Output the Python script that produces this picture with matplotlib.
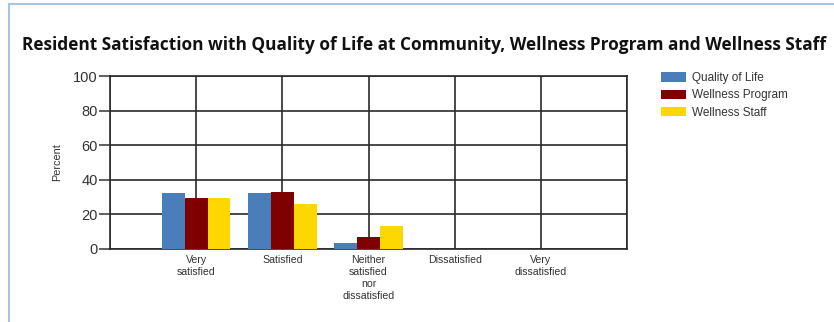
import numpy as np
import matplotlib.pyplot as plt
from matplotlib.lines import Line2D

categories = ['Very\nsatisfied', 'Satisfied', 'Neither\nsatisfied\nnor\ndissatisfied',
              'Dissatisfied', 'Very\ndissatisfied']
quality_of_life = [32.5, 32.5, 3.5, 0, 0]
wellness_program = [29.3, 32.7, 6.8, 0, 0]
wellness_staff = [29.3, 26.0, 13.3, 0, 0]
series_names = ['Quality of Life', 'Wellness Program', 'Wellness Staff']
colors = ['#4a7ebb', '#7f0000', '#ffd700']
yticks = [0, 20, 40, 60, 80, 100]

fig = plt.figure(figsize=(8.34, 3.22), dpi=100)
ax = fig.add_axes([110 / 834, 1 - 249 / 322, 517 / 834, 173 / 322])

x = np.arange(1, len(categories) + 1)
w = 0.265
for i, (vals, name, c) in enumerate(zip([quality_of_life, wellness_program, wellness_staff],
                                        series_names, colors)):
    ax.bar(x + (i - 1) * w, vals, width=w, color=c, label=name, zorder=3)

ax.set_xlim(0, len(categories) + 1)
ax.set_ylim(0, 100)
ax.set_yticks(yticks)
ax.set_xticks(np.arange(0, len(categories) + 2))
ax.set_xticklabels([''] + categories + [''], fontsize=7.6, color='#333333',
                   family='Liberation Sans', va='top', linespacing=1.25)
ax.tick_params(axis='x', length=0, pad=4)
ax.tick_params(axis='y', length=8, width=1.2, color='#444444', labelsize=10.5,
               labelcolor='#333333', pad=1)
for lab in ax.get_yticklabels():
    lab.set_family('Liberation Sans')
ax.grid(True, color='#2a2a2a', linewidth=1.2, zorder=0)
for s in ax.spines.values():
    s.set_color('#2a2a2a')
    s.set_linewidth(1.2)
ax.set_ylabel('Percent', fontsize=7.8, color='#333333', family='Liberation Sans', labelpad=8)

fig.text(22 / 834, 1 - 45 / 322, 'Resident Satisfaction with Quality of Life at Community, '
         'Wellness Program and Wellness Staff', fontsize=12.4, fontweight='bold',
         family='Open Sans', va='center', ha='left', color='#111111')

leg = fig.legend(loc='upper left', bbox_to_anchor=(661 / 834, 1 - 72 / 322), frameon=False,
                 fontsize=8.5, handlelength=2.1, handleheight=0.85, labelspacing=0.45,
                 handletextpad=0.5, borderaxespad=0, borderpad=0)
for t in leg.get_texts():
    t.set_family('Liberation Sans')
    t.set_color('#333333')

fig.add_artist(Line2D([9 / 834, 9 / 834], [0, 1 - 4 / 322], color='#a9c4e6', lw=1.5,
                      transform=fig.transFigure))
fig.add_artist(Line2D([9 / 834, 1], [1 - 4 / 322, 1 - 4 / 322], color='#a9c4e6', lw=1.5,
                      transform=fig.transFigure))

fig.savefig('out.png', dpi=100)
